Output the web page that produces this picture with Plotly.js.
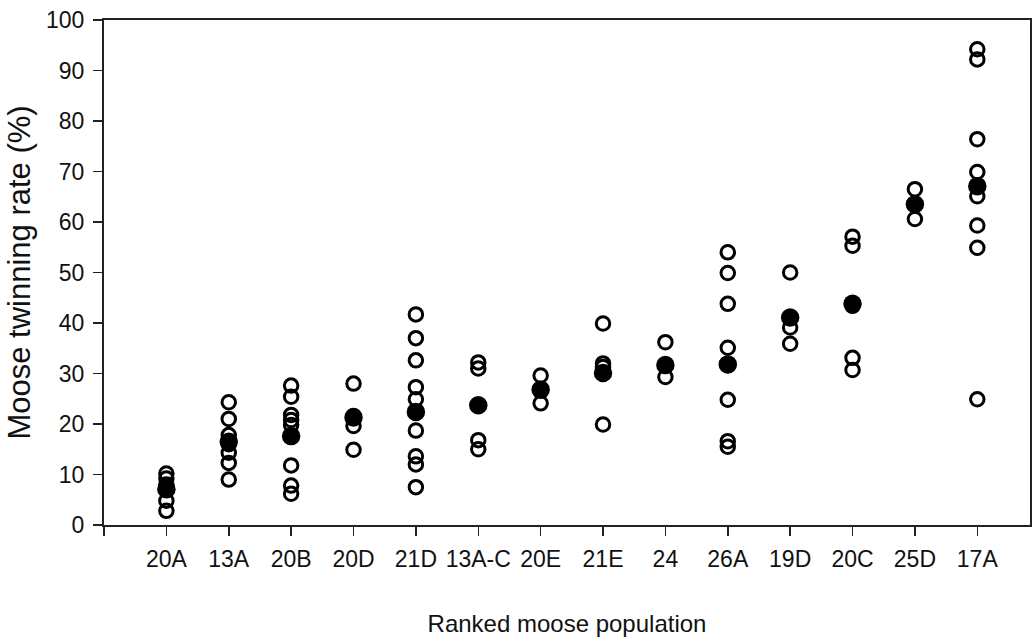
<!DOCTYPE html>
<html>
<head>
<meta charset="utf-8">
<script src="https://cdn.plot.ly/plotly-3.0.1.min.js"></script>
<style>html,body{margin:0;padding:0;background:#fff;}#chart{width:1032px;height:637px;}</style>
</head>
<body>
<div id="chart"></div>
<script>
const categories = ["20A","13A","20B","20D","21D","13A-C","20E","21E","24","26A","19D","20C","25D","17A"];
const meanRates = [7.1, 16.5, 17.6, 21.3, 22.4, 23.7, 26.8, 30.1, 31.7, 31.8, 41.1, 43.8, 63.5, 67.1];
const rates20A  = [10.2, 9.2, 8.0, 4.8, 2.8];
const rates13A  = [24.3, 21.0, 17.8, 16.0, 14.3, 12.3, 9.0];
const rates20B  = [27.6, 25.4, 21.8, 20.8, 19.8, 11.8, 7.8, 6.2];
const rates20D  = [28.0, 21.6, 19.6, 14.9];
const rates21D  = [41.7, 37.0, 32.6, 27.3, 24.9, 18.7, 13.6, 12.0, 7.5];
const rates13AC = [32.2, 31.0, 16.8, 15.0];
const rates20E  = [29.6, 24.1];
const rates21E  = [39.9, 32.0, 31.3, 19.9];
const rates24   = [36.2, 29.3];
const rates26A  = [54.0, 49.9, 43.8, 35.1, 24.8, 16.6, 15.5];
const rates19D  = [50.0, 39.1, 35.9];
const rates20C  = [57.1, 55.3, 43.4, 33.1, 30.7];
const rates25D  = [66.5, 60.6];
const rates17A  = [94.2, 92.2, 76.4, 69.9, 65.1, 59.3, 54.9, 24.9];
const openSets = [rates20A, rates13A, rates20B, rates20D, rates21D, rates13AC, rates20E, rates21E, rates24, rates26A, rates19D, rates20C, rates25D, rates17A];

const ox = [], oy = [];
openSets.forEach((vals, i) => vals.forEach(v => { ox.push(i); oy.push(v); }));
const idx = categories.map((c, i) => i);

const font = "Liberation Sans, Arial, sans-serif";
const traces = [
  {x: ox, y: oy, type: "scatter", mode: "markers", hoverinfo: "y",
   marker: {symbol: "circle-open", size: 13.5, color: "#000", line: {width: 3, color: "#000"}}},
  {x: idx, y: meanRates, type: "scatter", mode: "markers", hoverinfo: "y",
   marker: {symbol: "circle", size: 18.5, color: "#000", line: {width: 0}}}
];
const layout = {
  width: 1032, height: 637,
  margin: {l: 104, r: 2, t: 20, b: 112},
  paper_bgcolor: "#fff", plot_bgcolor: "#fff",
  showlegend: false,
  font: {family: font, color: "#111", size: 20},
  xaxis: {
    range: [-1, 13.845], showgrid: false, zeroline: false,
    tickmode: "array", tickvals: [-1].concat(idx), ticktext: [""].concat(categories),
    ticks: "outside", ticklen: 9, tickwidth: 1.5, tickcolor: "#222",
    showline: true, linecolor: "#222", linewidth: 2, mirror: true,
    ticklabelstandoff: 3,
    tickfont: {size: 23, family: font, color: "#111"},
    title: {text: "Ranked moose population", font: {size: 24, family: font, color: "#111"}, standoff: 50}
  },
  yaxis: {
    range: [0, 100], showgrid: false, zeroline: false,
    tickmode: "linear", tick0: 0, dtick: 10,
    ticks: "outside", ticklen: 9, tickwidth: 1.5, tickcolor: "#222",
    showline: true, linecolor: "#222", linewidth: 2, mirror: true,
    ticklabelstandoff: 4,
    tickfont: {size: 23, family: font, color: "#111"},
    title: {text: "Moose twinning rate (%)", font: {size: 31, family: font, color: "#111"}, standoff: 6}
  }
};
Plotly.newPlot("chart", traces, layout, {displayModeBar: false, staticPlot: true});
</script>
</body>
</html>
